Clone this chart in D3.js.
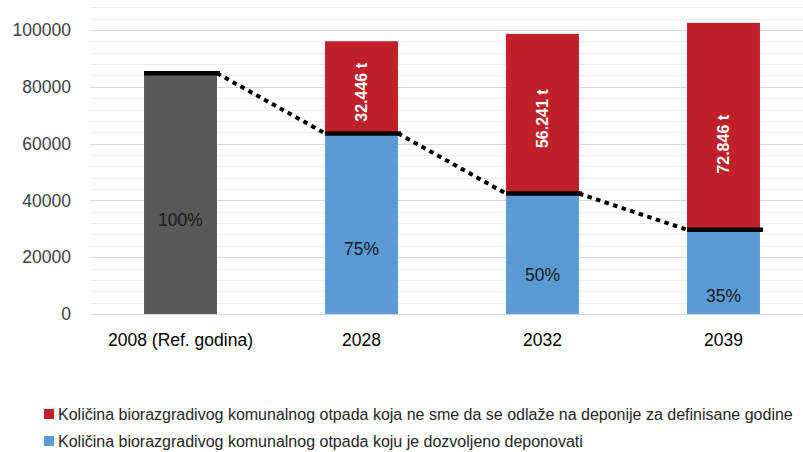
<!DOCTYPE html>
<html><head><meta charset="utf-8">
<script src="https://cdn.jsdelivr.net/npm/d3@7"></script>
<style>body{margin:0;background:#fff}svg{display:block}</style>
</head><body>
<svg id="c" width="803" height="452"></svg>
<script>
const categories = ["2008 (Ref. godina)", "2028", "2032", "2039"];
const allowed = [84800, 63600, 42400, 29680];      // blue (gray for reference year)
const forbidden = [0, 32446, 56241, 72846];        // red
const forbiddenLabels = ["", "32.446 t", "56.241 t", "72.846 t"];
const pctLabels = ["100%", "75%", "50%", "35%"];
const pctLabelAt = [33100, 22900, 13700, 6300];
const yTicks = [0, 20000, 40000, 60000, 80000, 100000];
const legendItems = [
  "Količina biorazgradivog komunalnog otpada koja ne sme da se odlaže na deponije za definisane godine",
  "Količina biorazgradivog komunalnog otpada koju je dozvoljeno deponovati"
];

const svg = d3.select("#c");
const FONT = "'Liberation Sans', Arial, sans-serif";
const x = d3.scaleBand().domain(categories).range([90, 814]).paddingInner(0.597).paddingOuter(0.2985);
const y = d3.scaleLinear().domain([0, 108000]).range([314, 7.3]);

// grid
const minor = d3.range(0, 108001, 4000);
svg.append("g").selectAll("line").data(minor).join("line")
  .attr("x1", 90).attr("x2", 803)
  .attr("y1", d => Math.round(y(d)) + 0.5).attr("y2", d => Math.round(y(d)) + 0.5)
  .attr("stroke", d => d % 20000 === 0 ? "#d9d9d9" : "#efefef").attr("stroke-width", 1);

// y axis labels
const yAxis = d3.axisLeft(y).tickValues(yTicks).tickSize(0).tickPadding(0).tickFormat(d3.format("d"));
const ga = svg.append("g").attr("transform", "translate(71,0)").call(yAxis);
ga.select(".domain").remove();
ga.selectAll("text").attr("font-family", FONT).attr("font-size", 17.5).attr("fill", "#404040");

// x axis labels
const xAxis = d3.axisBottom(x).tickSize(0).tickPadding(0);
const gx = svg.append("g").attr("transform", "translate(0,334)").call(xAxis);
gx.select(".domain").remove();
gx.selectAll("text").attr("font-family", FONT).attr("font-size", 17.5).attr("fill", "#000");

// bars
const bw = x.bandwidth();
svg.append("g").selectAll("rect").data(categories).join("rect")
  .attr("x", d => x(d)).attr("width", bw)
  .attr("y", (d, i) => y(allowed[i])).attr("height", (d, i) => y(0) - y(allowed[i]))
  .attr("fill", (d, i) => i === 0 ? "#595959" : "#5B9BD5");
svg.append("g").selectAll("rect").data(categories).join("rect")
  .attr("x", d => x(d)).attr("width", bw)
  .attr("y", (d, i) => y(allowed[i] + forbidden[i]))
  .attr("height", (d, i) => y(allowed[i]) - y(allowed[i] + forbidden[i]))
  .attr("fill", "#C0202A");

// dotted connectors
const conn = d3.range(categories.length - 1);
svg.append("g").selectAll("line").data(conn).join("line")
  .attr("x1", i => x(categories[i]) + bw).attr("y1", i => y(allowed[i]))
  .attr("x2", i => x(categories[i + 1])).attr("y2", i => y(allowed[i + 1]))
  .attr("stroke", "#000").attr("stroke-width", 4).attr("stroke-dasharray", "4.5,4.5");

// thick level lines
svg.append("g").selectAll("line").data(categories).join("line")
  .attr("x1", d => x(d)).attr("x2", d => x(d) + bw + 3)
  .attr("y1", (d, i) => y(allowed[i])).attr("y2", (d, i) => y(allowed[i]))
  .attr("stroke", "#000").attr("stroke-width", 4.5);

// percentage labels
svg.append("g").selectAll("text").data(categories).join("text")
  .attr("x", d => x(d) + bw / 2).attr("y", (d, i) => y(pctLabelAt[i]))
  .attr("text-anchor", "middle").attr("dominant-baseline", "central")
  .attr("font-family", FONT).attr("font-size", 17.5).attr("fill", "#1a1a1a")
  .text((d, i) => pctLabels[i]);

// red labels rotated
svg.append("g").selectAll("text").data(categories.filter((d, i) => forbidden[i] > 0)).join("text")
  .attr("transform", d => {
    const i = categories.indexOf(d);
    const cy = (y(allowed[i]) + y(allowed[i] + forbidden[i])) / 2 + (i === 3 ? 18 : 5);
    return `translate(${x(d) + bw / 2},${cy}) rotate(-90)`;
  })
  .attr("text-anchor", "middle").attr("dominant-baseline", "central")
  .attr("font-family", FONT).attr("font-size", 16).attr("font-weight", "bold").attr("fill", "#fff")
  .text(d => forbiddenLabels[categories.indexOf(d)]);

// legend
const legColors = ["#C0202A", "#5B9BD5"];
const lg = svg.append("g").selectAll("g").data(legendItems).join("g")
  .attr("transform", (d, i) => `translate(44,${414 + i * 27})`);
lg.append("rect").attr("x", 0).attr("y", -5).attr("width", 10).attr("height", 10)
  .attr("fill", (d, i) => legColors[i]);
lg.append("text").attr("x", 14).attr("y", 0).attr("dominant-baseline", "central")
  .attr("font-family", FONT).attr("font-size", 16).attr("fill", "#262626")
  .text(d => d);
</script>
</body></html>
